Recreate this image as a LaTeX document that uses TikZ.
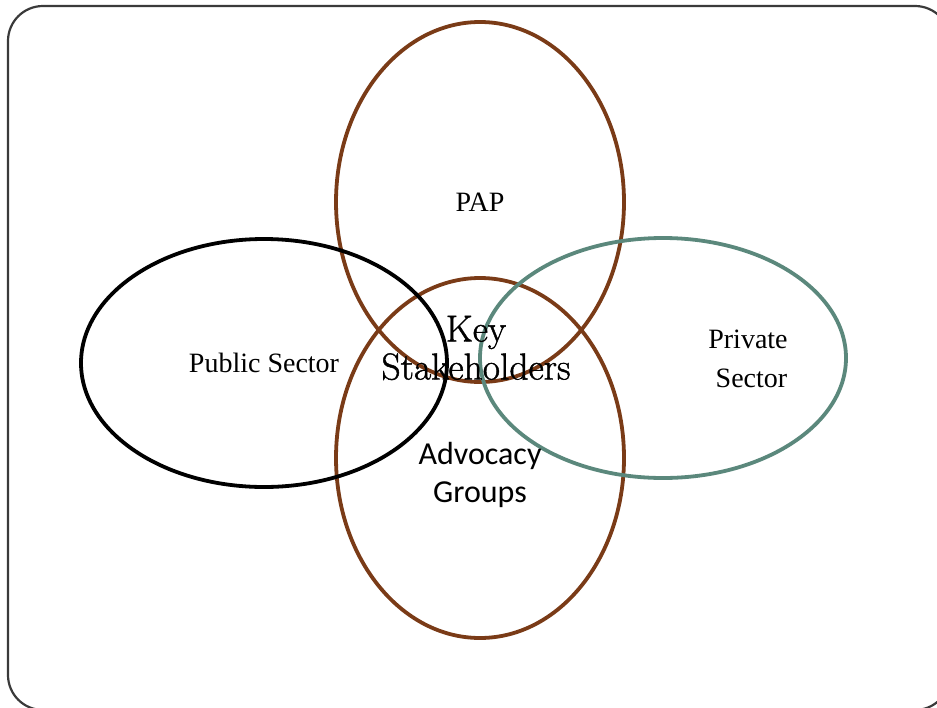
\documentclass[tikz,border=0pt]{standalone}
\usepackage{fontspec}
\setmainfont{Liberation Serif}
\newfontfamily\lmserif[FakeBold=1.2]{Latin Modern Roman}
\newfontfamily\calibrilike{Carlito}
\usetikzlibrary{shapes.geometric}
\definecolor{rustbrown}{HTML}{7A3B17}
\definecolor{sagegreen}{HTML}{5B887C}
\definecolor{framegray}{HTML}{3A3A3A}
\tikzset{
  ring/.style={draw, ellipse, line width=3.8pt, inner sep=0pt},
  serifsmall/.style={font=\fontsize{28}{39}\selectfont, align=center},
  keylabel/.style={font=\lmserif\fontsize{37.5}{38}\selectfont, align=center},
  sanslabel/.style={font=\calibrilike\fontsize{32}{38}\selectfont, align=center},
}
\begin{document}
\begin{tikzpicture}[x=1pt, y=-1pt]
  \useasboundingbox (0,0) rectangle (937,707);
  \clip (0,0) rectangle (937,707);
  % slide frame
  \draw[framegray, line width=2.2pt, rounded corners=35pt] (8,6) rectangle (950,710);
  % the four sets
  \node[ring, rustbrown, minimum width=288pt, minimum height=360pt] (pap) at (480,202) {};
  \node[ring, rustbrown, minimum width=288pt, minimum height=360pt] (adv) at (480,458) {};
  \node[ring, black, minimum width=366pt, minimum height=248pt] (pub) at (264,363) {};
  \node[ring, sagegreen, minimum width=366pt, minimum height=240pt] (priv) at (663,358) {};
  % labels
  \node[serifsmall] (paplbl) at (480,202) {PAP};
  \node[serifsmall] (publbl) at (264,363) {Public Sector};
  \node[serifsmall] (privlbl) at (748,359) {Private\\\ Sector};
  \node[keylabel] (keylbl) at (476,348) {Key\\Stakeholders};
  \node[sanslabel] (advlbl) at (480,475) {Advocacy\\Groups};
\end{tikzpicture}
\end{document}
